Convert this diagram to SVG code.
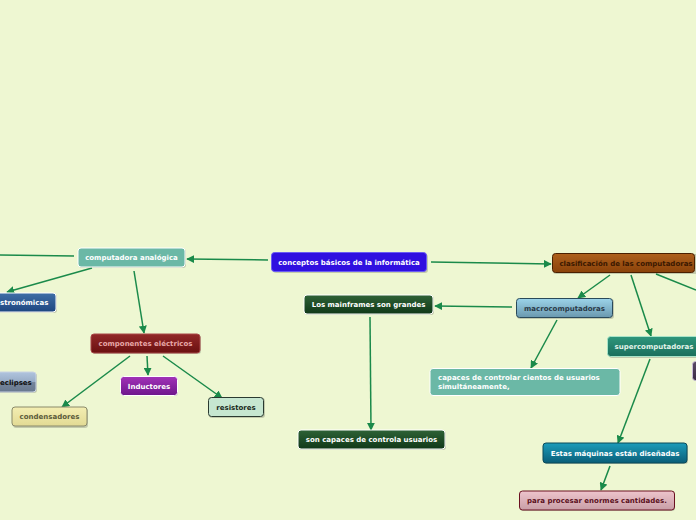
<svg xmlns="http://www.w3.org/2000/svg" width="696" height="520" viewBox="0 0 696 520">
<style>
text{font-family:"DejaVu Sans",Verdana,sans-serif;font-weight:bold;font-size:7px;text-anchor:middle}
.l{text-anchor:start}
.c{fill:none;stroke:#1a8a4a;stroke-width:1.5}
.a{marker-end:url(#ah)}
.sh{fill:#000;opacity:0.18}
</style>
<defs>
<marker id="ah" viewBox="0 0 10 10" refX="9" refY="5" markerWidth="8" markerHeight="8" markerUnits="userSpaceOnUse" orient="auto"><path d="M0,0L10,5L0,10z" fill="#1a8a4a"/></marker>
<linearGradient id="gBlue" x1="0" y1="0" x2="0" y2="1"><stop offset="0" stop-color="#3e6ea6"/><stop offset="1" stop-color="#1e4680"/></linearGradient>
<linearGradient id="gEcl" x1="0" y1="0" x2="0" y2="1"><stop offset="0" stop-color="#b0c4de"/><stop offset="0.5" stop-color="#98acc6"/><stop offset="0.5" stop-color="#76869c"/><stop offset="1" stop-color="#68788e"/></linearGradient>
<linearGradient id="gRed" x1="0" y1="0" x2="0" y2="1"><stop offset="0" stop-color="#922828"/><stop offset="1" stop-color="#6a1010"/></linearGradient>
<linearGradient id="gPur" x1="0" y1="0" x2="0" y2="1"><stop offset="0" stop-color="#a232b8"/><stop offset="1" stop-color="#6e168c"/></linearGradient>
<linearGradient id="gYel" x1="0" y1="0" x2="0" y2="1"><stop offset="0" stop-color="#f3eeb2"/><stop offset="1" stop-color="#e2da94"/></linearGradient>
<linearGradient id="gDG" x1="0" y1="0" x2="0" y2="1"><stop offset="0" stop-color="#2e6236"/><stop offset="1" stop-color="#103818"/></linearGradient>
<linearGradient id="gBr" x1="0" y1="0" x2="0" y2="1"><stop offset="0" stop-color="#ae601c"/><stop offset="1" stop-color="#8a420a"/></linearGradient>
<linearGradient id="gMac" x1="0" y1="0" x2="0" y2="1"><stop offset="0" stop-color="#9cd4ea"/><stop offset="1" stop-color="#6a98ae"/></linearGradient>
<linearGradient id="gSup" x1="0" y1="0" x2="0" y2="1"><stop offset="0" stop-color="#2e967c"/><stop offset="1" stop-color="#1a6e5c"/></linearGradient>
<linearGradient id="gEst" x1="0" y1="0" x2="0" y2="1"><stop offset="0" stop-color="#1c9cba"/><stop offset="1" stop-color="#0a5e78"/></linearGradient>
<linearGradient id="gPink" x1="0" y1="0" x2="0" y2="1"><stop offset="0" stop-color="#eec4cc"/><stop offset="1" stop-color="#c89ea6"/></linearGradient>
<linearGradient id="gDP" x1="0" y1="0" x2="0" y2="1"><stop offset="0" stop-color="#5a4a66"/><stop offset="1" stop-color="#3a2c44"/></linearGradient>
</defs>
<rect width="696" height="520" fill="#eef7d2"/>
<g id="connectors">
<path class="c a" d="M268,260 L187,259"/>
<path class="c" d="M74,256 L0,255"/>
<path class="c a" d="M92,268 L7,292"/>
<path class="c a" d="M134,271 L144,333"/>
<path class="c a" d="M147,356 L148,375"/>
<path class="c a" d="M163,356 L222,398"/>
<path class="c a" d="M130,356 L62,407"/>
<path class="c a" d="M431,262 L551,264"/>
<path class="c a" d="M610,275 L578,298"/>
<path class="c a" d="M512,307 L435,306"/>
<path class="c a" d="M557,320 L531,368"/>
<path class="c a" d="M631,275 L651,336"/>
<path class="c" d="M656,274 L696,290"/>
<path class="c a" d="M370,317 L371,430"/>
<path class="c a" d="M650,359 L618,443"/>
<path class="c a" d="M610,466 L601,490"/>
</g>
<g id="n-conceptos">
<rect class="sh" x="273" y="254" width="155" height="19" rx="3"/>
<rect x="271.5" y="252.5" width="155" height="19" rx="3" fill="#3010e0" stroke="#6a5cf4"/>
<text x="349" y="264.5" fill="#fff">conceptos básicos de la informática</text>
</g>
<g id="n-analogica">
<rect class="sh" x="79" y="249" width="107" height="19" rx="3"/>
<rect x="78" y="248" width="107" height="19" rx="3" fill="#6bb8a6" stroke="#fff"/>
<text x="131.5" y="260" fill="#fff">computadora analógica</text>
</g>
<g id="n-astronomicas">
<rect class="sh" x="-9" y="294" width="66" height="19" rx="3"/>
<rect x="-10" y="293" width="66" height="19" rx="3" fill="url(#gBlue)" stroke="#fff"/>
<text class="l" x="0" y="305" fill="#fff">stronómicas</text>
</g>
<g id="n-eclipses">
<rect class="sh" x="-9" y="373" width="46" height="20" rx="3"/>
<rect x="-10" y="372" width="46" height="20" rx="3" fill="url(#gEcl)" stroke="#c8d2e2"/>
<text class="l" x="0" y="384.5" fill="#111">eclipses</text>
</g>
<g id="n-componentes">
<rect class="sh" x="92" y="335" width="109" height="19" rx="3"/>
<rect x="91" y="334" width="109" height="19" rx="3" fill="url(#gRed)" stroke="#a84848"/>
<text x="145.5" y="346" fill="#e8a8a8">componentes eléctricos</text>
</g>
<g id="n-inductores">
<rect class="sh" x="121" y="377" width="57" height="19" rx="3"/>
<rect x="120.5" y="376.5" width="57" height="19" rx="3" fill="url(#gPur)" stroke="#fff"/>
<text x="149" y="388.5" fill="#fff">Inductores</text>
</g>
<g id="n-resistores">
<rect class="sh" x="209" y="398" width="56" height="20" rx="3"/>
<rect x="208.5" y="397.5" width="55" height="19" rx="3" fill="#c6e6d0" stroke="#2a3a30"/>
<text x="236" y="409.5" fill="#1a2a20">resistores</text>
</g>
<g id="n-condensadores">
<rect class="sh" x="13" y="408" width="75" height="20" rx="3"/>
<rect x="12" y="407" width="75" height="19" rx="3" fill="url(#gYel)" stroke="#8a8a6a"/>
<text x="49.5" y="419" fill="#5a5a3a">condensadores</text>
</g>
<g id="n-mainframes">
<rect class="sh" x="305" y="296" width="129" height="19" rx="3"/>
<rect x="304" y="295" width="129" height="19" rx="3" fill="url(#gDG)" stroke="#fff"/>
<text x="368.5" y="307" fill="#fff">Los mainframes son grandes</text>
</g>
<g id="n-clasificacion">
<rect class="sh" x="553" y="254" width="145" height="20" rx="3"/>
<rect x="552.5" y="253.5" width="142" height="19" rx="3" fill="url(#gBr)" stroke="#4a2000"/>
<text x="626" y="265.5" fill="#3a1800">clasificación de las computadoras</text>
</g>
<g id="n-macro">
<rect class="sh" x="517" y="299" width="97" height="20" rx="3"/>
<rect x="516.5" y="298.5" width="96" height="19" rx="3" fill="url(#gMac)" stroke="#2a4a5a"/>
<text x="564.5" y="310.5" fill="#2a3a48">macrocomputadoras</text>
</g>
<g id="n-capaces">
<rect x="430" y="368.5" width="190" height="27" rx="3" fill="#6bb8a6" stroke="#fff"/>
<text class="l" x="438" y="380" fill="#fff">capaces de controlar cientos de usuarios</text>
<text class="l" x="438" y="389" fill="#fff">simultáneamente,</text>
</g>
<g id="n-super">
<rect class="sh" x="609" y="337" width="95" height="21" rx="3"/>
<rect x="607.5" y="336.5" width="95" height="20" rx="3" fill="url(#gSup)" stroke="#a8e4c8"/>
<text x="654" y="349" fill="#e2f4ea">supercomputadoras</text>
</g>
<g id="n-purple">
<rect x="692.5" y="361.5" width="20" height="19" rx="3" fill="url(#gDP)" stroke="#c8bcd6"/>
</g>
<g id="n-soncapaces">
<rect class="sh" x="299" y="431" width="147" height="19" rx="3"/>
<rect x="298" y="430" width="147" height="19" rx="3" fill="url(#gDG)" stroke="#fff"/>
<text x="371.5" y="442" fill="#fff">son capaces de controla usuarios</text>
</g>
<g id="n-estas">
<rect class="sh" x="544" y="444" width="144" height="20" rx="3"/>
<rect x="543" y="443" width="144" height="20" rx="3" fill="url(#gEst)" stroke="#0a4a5a"/>
<text x="615" y="455.5" fill="#fff">Estas máquinas están diseñadas</text>
</g>
<g id="n-para">
<rect class="sh" x="520" y="492" width="155" height="19" rx="3"/>
<rect x="519.5" y="491" width="155" height="19" rx="3" fill="url(#gPink)" stroke="#6a1020"/>
<text x="597" y="503" fill="#5a1020">para procesar enormes cantidades.</text>
</g>
</svg>
